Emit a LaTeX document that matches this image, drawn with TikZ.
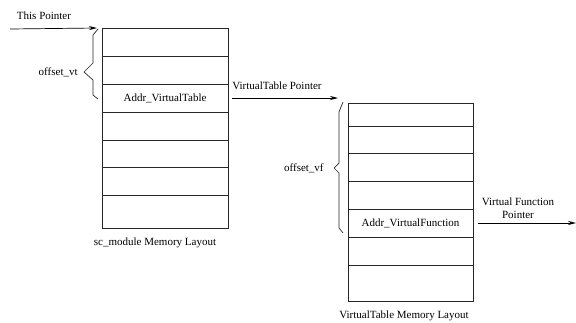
\documentclass[tikz,border=0pt]{standalone}
\usepackage{fontspec}
\setmainfont{Liberation Serif}
\usetikzlibrary{positioning, arrows.meta}

\begin{document}
\begin{tikzpicture}[x=1pt, y=-1pt, font=\fontsize{11}{12.5}\selectfont, node distance=0pt,
    line width=0.7pt, draw=black!85,
    cell/.style={draw=black!85, inner sep=0pt, outer sep=0pt, minimum height=28pt},
    sccell/.style={cell, minimum width=126pt},
    vfcell/.style={cell, minimum width=125pt},
    ptr/.style={draw=black, -{Stealth[length=8pt, width=4pt]}},
    lbl/.style={inner sep=1pt}]
  \useasboundingbox (0,0) rectangle (576,322);

  % sc_module memory layout
  \node[sccell, anchor=north west] (sc1) at (102,28) {};
  \node[sccell, below=of sc1] (sc2) {};
  \node[sccell, below=of sc2] (sc3) {Addr\_VirtualTable};
  \node[sccell, below=of sc3] (sc4) {};
  \node[sccell, below=of sc4, minimum height=27pt] (sc5) {};
  \node[sccell, below=of sc5] (sc6) {};
  \node[sccell, below=of sc6, minimum height=33pt] (sc7) {};
  \node[lbl] (sccap) at (155,243) {sc\_module Memory Layout};

  % VirtualTable memory layout
  \node[vfcell, anchor=north west, minimum height=23pt] (vf1) at (348,103) {};
  \node[vfcell, below=of vf1, minimum height=27pt] (vf2) {};
  \node[vfcell, below=of vf2] (vf3) {};
  \node[vfcell, below=of vf3] (vf4) {};
  \node[vfcell, below=of vf4] (vf5) {Addr\_VirtualFunction};
  \node[vfcell, below=of vf5] (vf6) {};
  \node[vfcell, below=of vf6, minimum height=36pt] (vf7) {};
  \node[lbl] (vfcap) at (404,316) {VirtualTable Memory Layout};

  % offsets
  \draw (98,29) -- (93,35) -- (93,63) -- (84,72) -- (93,80) -- (93,95) -- (98,99);
  \node[lbl, anchor=east] (offvt) at (79,72) {offset\_vt};
  \draw (343,102) -- (339,112) -- (339,163) -- (334,168) -- (339,173) -- (339,228) -- (343,233);
  \node[lbl, anchor=east] (offvf) at (325,168) {offset\_vf};

  % pointers
  \coordinate (thisstart) at (10,29);
  \node[lbl] (thislbl) at (44,16) {This Pointer};
  \draw[ptr] (thisstart) -- ([xshift=-5pt]sc1.north west);

  \node[lbl, anchor=west] (vtlbl) at (231,86) {VirtualTable Pointer};
  \draw[ptr, shorten <=4pt, shorten >=10pt] (sc3.east) -- (sc3.east -| vf1.west);

  \coordinate (vfend) at (576,223);
  \node[lbl, align=center] (vflbl) at (518,208) {Virtual Function\\Pointer};
  \draw[ptr, shorten <=5pt] (vf5.east) -- (vfend);
\end{tikzpicture}
\end{document}
